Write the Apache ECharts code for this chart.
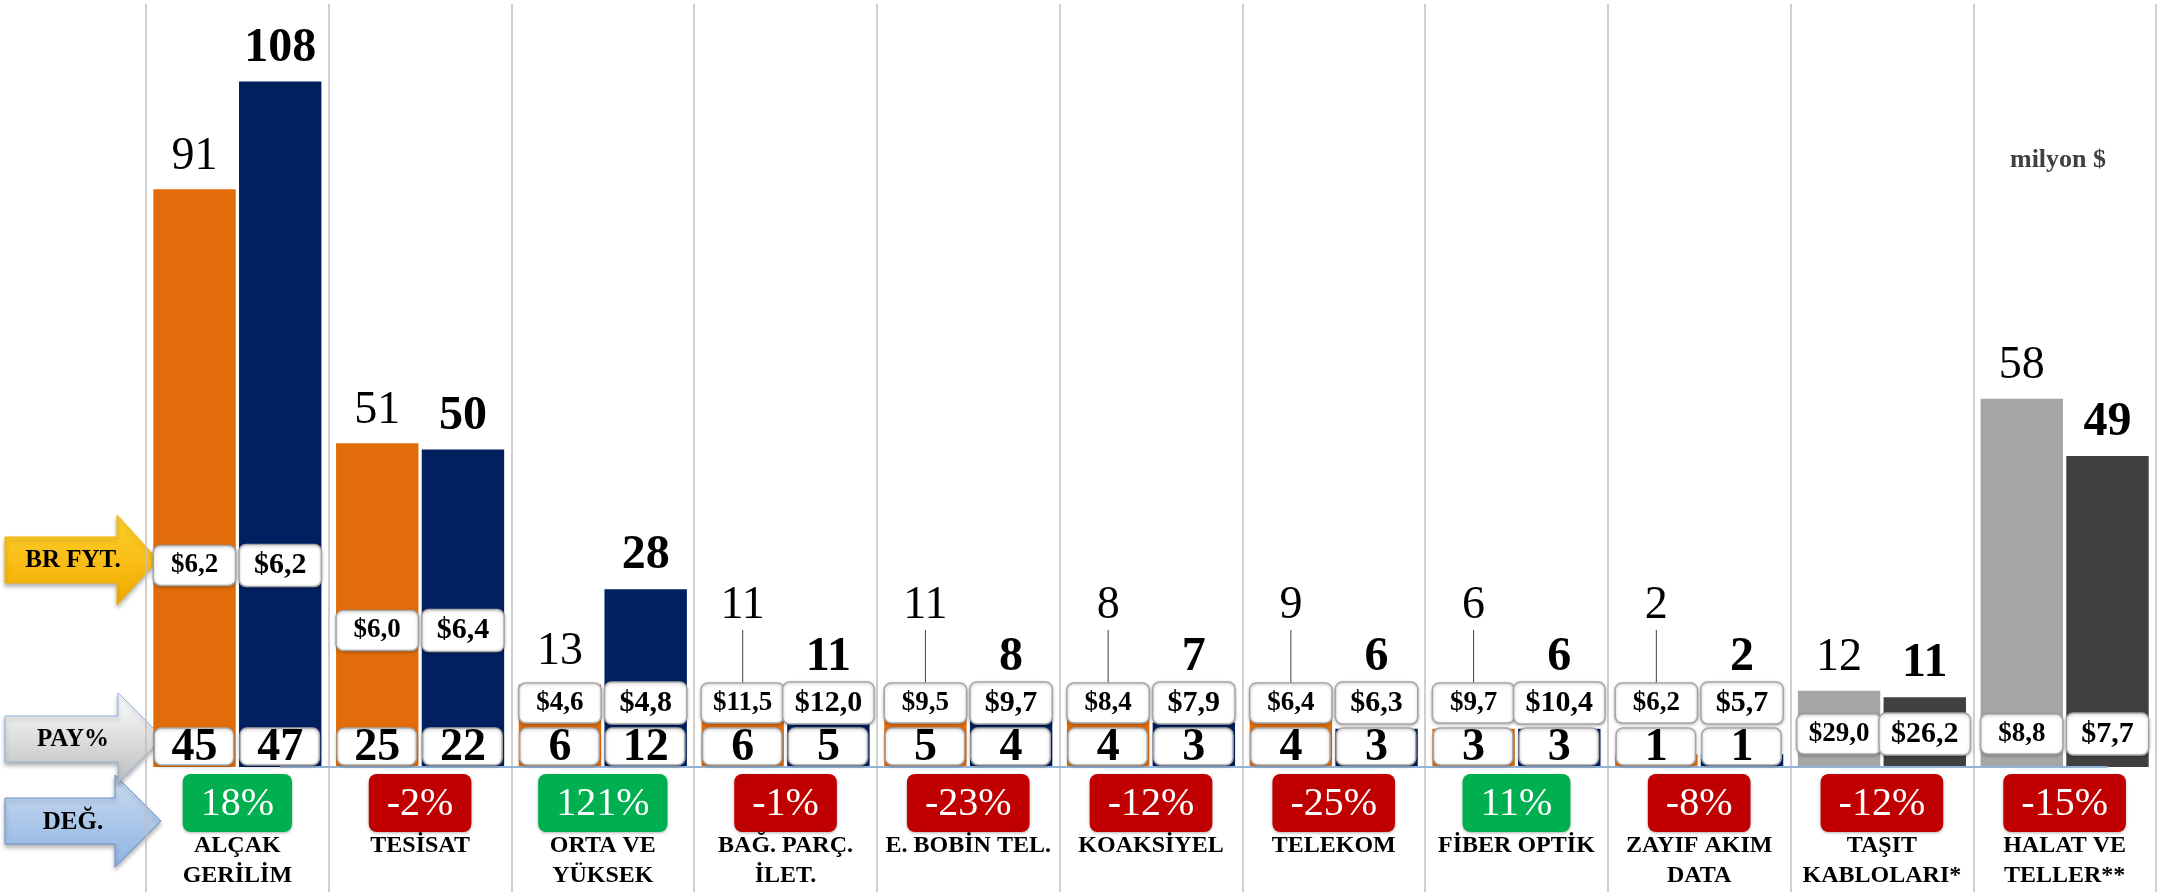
<!DOCTYPE html>
<html>
<head>
<meta charset="utf-8">
<script src="https://cdn.jsdelivr.net/npm/echarts@6/dist/echarts.min.js"></script>
<style>
html, body { margin: 0; padding: 0; background: #fff; }
#main { width: 2162px; height: 892px; }
</style>
</head>
<body>
<div id="main"></div>
<script>
/* veri */
var categories = ['ALÇAK\nGERİLİM', 'TESİSAT', 'ORTA VE\nYÜKSEK', 'BAĞ. PARÇ.\nİLET.', 'E. BOBİN TEL.',
    'KOAKSİYEL', 'TELEKOM', 'FİBER OPTİK', 'ZAYIF AKIM\nDATA', 'TAŞIT\nKABLOLARI*', 'HALAT VE\nTELLER**'];
var prevValues = [91, 51, 13, 11, 11, 8, 9, 6, 2, 12, 58];
var currValues = [108, 50, 28, 11, 8, 7, 6, 6, 2, 11, 49];
var prevPrice = [6.2, 6.0, 4.6, 11.5, 9.5, 8.4, 6.4, 9.7, 6.2, 29.0, 8.8];
var currPrice = [6.2, 6.4, 4.8, 12.0, 9.7, 7.9, 6.3, 10.4, 5.7, 26.2, 7.7];
var prevShare = [45, 25, 6, 6, 5, 4, 4, 3, 1, null, null];
var currShare = [47, 22, 12, 5, 4, 3, 3, 3, 1, null, null];
var changePct = [18, -2, 121, -1, -23, -12, -25, 11, -8, -12, -15];

/* stil */
var FONT = '"Liberation Serif", "Times New Roman", serif';
var ORANGE = '#E36C0A', NAVY = '#002060', LIGHT_GRAY = '#A6A6A6', DARK_GRAY = '#404040';
var GRAY_FROM = 9;          // son iki kategori gri
var CAT_GAP = 0.08, BAR_GAP = 0.04;

var measureCtx = document.createElement('canvas').getContext('2d');
function textWidth(text, font) {
    measureCtx.font = font;
    return measureCtx.measureText(text).width;
}

function barData(values, normal, gray) {
    return values.map(function (v, i) {
        return { value: v, itemStyle: { color: i >= GRAY_FROM ? gray : normal } };
    });
}

function box(x, y, w, h) {
    return {
        type: 'rect',
        shape: { x: x, y: y, width: w, height: h, r: 7 },
        style: { fill: '#fff', stroke: '#A6A6A6', lineWidth: 1.5,
            shadowBlur: 3, shadowOffsetY: 1, shadowColor: 'rgba(0,0,0,0.25)' }
    };
}
function txt(s, x, y, font) {
    return {
        type: 'text',
        style: { text: s, x: x, y: y, font: font, fill: '#000', align: 'center', verticalAlign: 'middle' }
    };
}

/* kutular ve etiketler */
function renderLabels(params, api) {
    var i = params.dataIndex;
    var zero = api.coord([i, 0]);
    var cx = zero[0], y0 = zero[1];
    var band = api.size([1, 0])[0];
    var w = band * (1 - CAT_GAP) / (2 + BAR_GAP);
    var left = cx - band * (1 - CAT_GAP) / 2;
    var centers = [left + w / 2, left + w * (1 + BAR_GAP) + w / 2];
    var vals = [prevValues[i], currValues[i]];
    var prices = [prevPrice[i], currPrice[i]];
    var shares = [prevShare[i], currShare[i]];
    var gray = i >= GRAY_FROM;
    var low = Math.min(vals[0], vals[1]);
    var priceCy = gray ? y0 - 33
        : (low > 20 ? api.coord([i, 9 + 0.25 * low])[1] : y0 - 64);
    var children = [];
    for (var k = 0; k < 2; k++) {
        var x = centers[k];
        var pFont = (k ? 'bold 30px ' : 'bold 27px ') + FONT;
        var pText = '$' + prices[k].toFixed(1).replace('.', ',');
        var bw = Math.max(w, textWidth(pText, pFont) + 24);
        var bh = k ? 42 : 40;
        var boxTop = priceCy - bh / 2;

        // değer etiketi
        var fs = k ? 48 : 46;
        var vFont = (k ? 'bold ' : '') + fs + 'px ' + FONT;
        var top = api.coord([i, vals[k]])[1];
        var base = top - 17;
        if (base > boxTop - 8) {
            base = boxTop - (k ? 8 : 61);
            if (boxTop - base > 20) {
                children.push({
                    type: 'line',
                    shape: { x1: x, y1: base + 8, x2: x, y2: boxTop },
                    style: { stroke: '#404040', lineWidth: 1 }
                });
            }
        }
        children.push(txt(String(vals[k]), x, base - 0.34 * fs, vFont));

        // birim fiyat
        children.push(box(x - bw / 2, boxTop, bw, bh));
        children.push(txt(pText, x, priceCy, pFont));

        // pay
        if (shares[k] != null) {
            children.push(box(x - w / 2 + 1, y0 - 39, w - 3, 37));
            children.push(txt(String(shares[k]), x, y0 - 19, 'bold 46px ' + FONT));
        }
    }
    return { type: 'group', children: children };
}

function arrow(points, c1, c2, stroke) {
    return {
        type: 'polygon',
        shape: { points: points },
        style: {
            fill: new echarts.graphic.LinearGradient(0, 0, 0, 1, [
                { offset: 0, color: c1 }, { offset: 1, color: c2 }]),
            stroke: stroke, lineWidth: 1,
            shadowBlur: 4, shadowOffsetY: 3, shadowColor: 'rgba(0,0,0,0.3)'
        }
    };
}
function sideText(s, y) {
    return {
        type: 'text',
        style: { text: s, x: 73, y: y, font: 'bold 25px ' + FONT, fill: '#000',
            align: 'center', verticalAlign: 'middle' }
    };
}

var changeBox = {
    fontSize: 40, fontFamily: FONT, color: '#fff', lineHeight: 42,
    padding: [10, 18, 8, 18], borderRadius: 8,
    shadowBlur: 3, shadowOffsetY: 1, shadowColor: 'rgba(0,0,0,0.3)'
};

var option = {
    animation: false,
    backgroundColor: '#fff',
    grid: { left: 146, right: 6, top: 4, bottom: 0, containLabel: false, outerBoundsMode: 'none' },
    xAxis: {
        type: 'category',
        data: categories,
        axisLine: { show: false, onZero: false },
        axisTick: { show: false },
        splitLine: { show: true, interval: 0, lineStyle: { color: '#BFBFBF', width: 1.5 } },
        axisLabel: {
            interval: 0,
            margin: -110,
            verticalAlign: 'top',
            formatter: function (value, idx) {
                var c = changePct[idx];
                var lines = value.split('\n').map(function (s) { return '{name|' + s + '}'; });
                return '{' + (c >= 0 ? 'up' : 'down') + '|' + c + '%}\n{gap| }\n' + lines.join('\n');
            },
            rich: {
                up: Object.assign({ backgroundColor: '#00B050' }, changeBox),
                down: Object.assign({ backgroundColor: '#C00000' }, changeBox),
                gap: { fontSize: 6, lineHeight: 7 },
                name: { fontSize: 24, fontWeight: 'bold', fontFamily: FONT, color: '#000', lineHeight: 30 }
            }
        }
    },
    yAxis: {
        type: 'value',
        min: -19.7,
        max: 120.2,
        axisLine: { show: false },
        axisTick: { show: false },
        axisLabel: { show: false },
        splitLine: { show: false }
    },
    graphic: [
        arrow([[5, 798], [115, 798], [115, 775], [161, 821], [115, 867], [115, 844], [5, 844]],
            '#CCDCF1', '#8DB3E2', '#6A93CC'),
        arrow([[5, 716], [118, 716], [118, 693], [163, 738], [118, 783], [118, 762], [5, 762]],
            '#FFFFFF', '#BDBDBD', '#8DB3E2'),
        arrow([[5, 537], [117, 537], [117, 515], [158, 560], [117, 605], [117, 583], [5, 583]],
            '#FFD22E', '#F2A900', '#F2B200'),
        sideText('BR FYT.', 561),
        sideText('PAY%', 740),
        sideText('DEĞ.', 823),
        {
            type: 'text',
            style: { text: 'milyon $', x: 2058, y: 160, font: 'bold 26px ' + FONT, fill: '#404040',
                align: 'center', verticalAlign: 'middle' }
        }
    ],
    series: [
        {
            name: 'prev',
            type: 'bar',
            barCategoryGap: '8%',
            barGap: '4%',
            data: barData(prevValues, ORANGE, LIGHT_GRAY)
        },
        {
            name: 'curr',
            type: 'bar',
            data: barData(currValues, NAVY, DARK_GRAY),
            markLine: {
                silent: true,
                symbol: 'none',
                label: { show: false },
                lineStyle: { color: '#95B3D7', width: 2, type: 'solid' },
                data: [[{ xAxis: 0, yAxis: 0 }, { xAxis: categories.length - 1, yAxis: 0 }]]
            }
        },
        {
            type: 'custom',
            z: 5,
            renderItem: renderLabels,
            encode: { x: 0, y: 1 },
            data: categories.map(function (c, i) { return [i, 0]; })
        }
    ]
};

var chart = echarts.init(document.getElementById('main'));
chart.setOption(option);
</script>
</body>
</html>
